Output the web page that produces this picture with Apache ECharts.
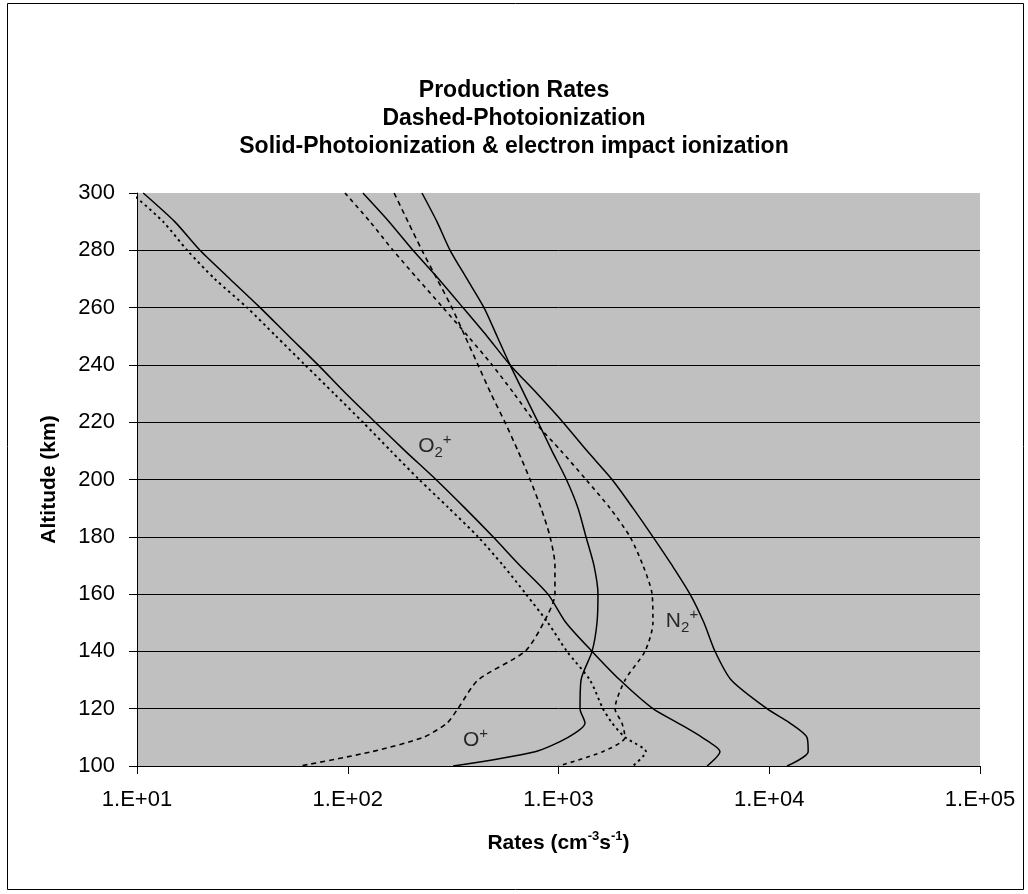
<!DOCTYPE html>
<html><head><meta charset="utf-8">
<script src="https://cdn.jsdelivr.net/npm/echarts@6/dist/echarts.min.js"></script>
<style>html,body{margin:0;padding:0;background:#fff}#c{width:1028px;height:894px}</style>
</head><body><div id="c"></div>
<script>
// Altitude levels (km)
const altitudes = [300,290,280,270,260,250,240,230,220,210,200,190,180,170,160,150,140,130,120,115,110,105,100];
// Production rates (cm^-3 s^-1)
// Solid = photoionization + electron impact ; Dashed = photoionization only
const o2Total = [10.7,15.1,19.9,27.6,38.4,52.6,72.3,98,135,187,262,360,489,656,891,1086,1443,1958,2806,3690,4797,5834,5070];
const o2Photo = [9.4,13.3,17.3,23.4,33.3,45.7,62.7,86.1,118,160,218,302,415,546,701,891,1097,1410,1626,1795,2069,2600,2256];
const n2Total = [118,157,204,270,352,458,589,791,1050,1365,1795,2256,2806,3460,4207,4900,5530,6600,9750,12540,15100,15300,12140];
const n2Photo = [97,127.5,164,215,283,372,484,615,774,1028,1350,1755,2184,2517,2780,2806,2572,2069,1854,2000,2069,1620,1000];
const oTotal  = [225,265,306,368,443,511,589,686,800,931,1090,1238,1350,1473,1539,1523,1443,1279,1265,1336,1110,774,316];
const oPhoto  = [166,193,225,265,312,360,415,478,557,642,733,826,912,962,962,850,693,415,333,296,228,130,59.4];
// Curve labels: [rate, altitude]
const labelO2 = [259, 211.5];
const labelN2 = [3855, 150.6];
const labelO  = [404, 109.1];
// Axis tick labels
const xTickLabels = ['1.E+01','1.E+02','1.E+03','1.E+04','1.E+05'];
const titleLines = ['Production Rates','Dashed-Photoionization','Solid-Photoionization & electron impact ionization'];

const FONT = "'Liberation Sans', Arial, sans-serif";
const pairs = arr => altitudes.map((a, i) => [arr[i], a]);

function lineSeries(name, arr, dash, w) {
  return {
    name, type: 'line', data: pairs(arr), symbol: 'none', smooth: 0.25, clip: true,
    lineStyle: { color: '#000', width: w || 1.5, type: dash || 'solid' },
    silent: true, animation: false
  };
}
const richLab = {
  b:   { fontFamily: FONT, fontSize: 21, color: '#000', lineHeight: 28 },
  sub: { fontFamily: FONT, fontSize: 15, color: '#000', verticalAlign: 'bottom', lineHeight: 15 },
  sup: { fontFamily: FONT, fontSize: 15, color: '#000', verticalAlign: 'top', lineHeight: 15 }
};
function labelSeries(pt, text) {
  return {
    type: 'scatter', data: [pt], symbol: 'circle', symbolSize: 1,
    itemStyle: { color: 'rgba(0,0,0,0)' }, silent: true, animation: false,
    label: { show: true, position: 'inside', formatter: text, rich: richLab }
  };
}

const chart = echarts.init(document.getElementById('c'), null, { renderer: 'canvas' });
chart.setOption({
  backgroundColor: '#fff',
  animation: false,
  title: {
    text: titleLines.join('\n'),
    left: 'center', top: 77, padding: 0,
    textStyle: { fontFamily: FONT, fontSize: 23, fontWeight: 'bold', color: '#000', lineHeight: 28 }
  },
  graphic: [{
    type: 'rect', silent: true,
    shape: { x: 7.5, y: 3.5, width: 1016, height: 886 },
    style: { fill: null, stroke: '#000', lineWidth: 1 }
  }],
  grid: { left: 137, right: 48, top: 193, bottom: 128, show: true, backgroundColor: '#C0C0C0', borderWidth: 0 },
  xAxis: {
    type: 'log', logBase: 10, min: 10, max: 100000,
    name: '{t|Rates (cm}{s|-3}{t|s}{s|-1}{t|)}', nameLocation: 'middle', nameGap: 64,
    nameTextStyle: {
      rich: {
        t: { fontFamily: FONT, fontSize: 21, fontWeight: 'bold', color: '#000', lineHeight: 26 },
        s: { fontFamily: FONT, fontSize: 13, fontWeight: 'bold', color: '#000', verticalAlign: 'top', lineHeight: 13 }
      }
    },
    axisLine: { show: true, onZero: false, lineStyle: { color: '#000', width: 1 } },
    axisTick: { show: true, length: 8, lineStyle: { color: '#000' } },
    axisLabel: {
      margin: 23, fontFamily: FONT, fontSize: 22, color: '#000',
      formatter: v => xTickLabels[Math.round(Math.log10(v)) - 1]
    },
    splitLine: { show: false }, minorTick: { show: false }
  },
  yAxis: {
    type: 'value', min: 100, max: 300, interval: 20,
    name: 'Altitude (km)', nameLocation: 'middle', nameGap: 77, nameRotate: 90,
    nameTextStyle: { fontFamily: FONT, fontSize: 21, fontWeight: 'bold', color: '#000' },
    axisLine: { show: true, onZero: false, lineStyle: { color: '#000', width: 1 } },
    axisTick: { show: true, length: 8, lineStyle: { color: '#000' } },
    axisLabel: { margin: 22, fontFamily: FONT, fontSize: 22, color: '#000' },
    splitLine: { show: true, showMaxLine: false, lineStyle: { color: '#000', width: 1 } }
  },
  series: [
    lineSeries('O2+ total', o2Total),
    lineSeries('O2+ photo', o2Photo, [2.5, 3.5], 1.9),
    lineSeries('N2+ total', n2Total),
    lineSeries('N2+ photo', n2Photo, [4, 4], 1.6),
    lineSeries('O+ total', oTotal),
    lineSeries('O+ photo', oPhoto, [5, 4], 1.6),
    labelSeries(labelO2, '{b|O}{sub|2}{sup|+}'),
    labelSeries(labelN2, '{b|N}{sub|2}{sup|+}'),
    labelSeries(labelO, '{b|O}{sup|+}')
  ]
});
</script>
</body></html>
